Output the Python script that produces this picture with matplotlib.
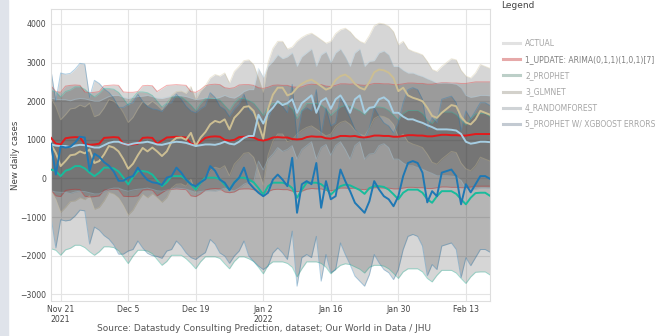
import numpy as np
import pandas as pd
import matplotlib
matplotlib.use("Agg")
import matplotlib.pyplot as plt
from matplotlib.lines import Line2D
from matplotlib.patches import Rectangle

# ---------------- data ----------------
dates = pd.date_range("2021-11-19", "2022-02-18", freq="D")

arima = [1050, 900, 880, 1040, 1060, 1070, 1060, 890, 870, 880, 900, 1050, 1060, 1070, 1060, 890,
         880, 880, 900, 1050, 1060, 1050, 900, 980, 1060, 1070, 1080, 1070, 1060, 900, 880,
         950, 1050, 1080, 1090, 1080, 1000, 980, 1000, 1070, 1080, 1080, 1060, 1000, 980, 1010,
         1060, 1070, 1060, 1060, 1020, 1010, 1020, 1070, 1090, 1080, 1080, 1040, 1030, 1060, 1100,
         1100, 1090, 1100, 1070, 1060, 1080, 1110, 1110, 1100, 1100, 1080, 1080, 1100, 1120, 1120,
         1110, 1110, 1090, 1090, 1110, 1130, 1130, 1120, 1120, 1110, 1110, 1130, 1150, 1150, 1150, 1150]

prophet = [230, 190, 60, 200, 240, 320, 320, 260, 150, 60, 150, 280, 280, 260, 180, 20,
           -155, 40, 190, 190, 170, 100, -50, -200, -100, 60, 60, 60, -30, -150, -290,
           -110, 20, 20, 20, -20, -160, -290, -100, 20, 20, -30, -100, -250, -420, -200,
           -110, -110, -110, -150, -250, -500, -290, -110, -110, -110, -150, -250, -420, -300, -200,
           -160, -180, -240, -300, -400, -250, -200, -200, -220, -290, -410, -540, -370, -290, -290,
           -290, -370, -540, -630, -460, -330, -330, -330, -400, -540, -670, -500, -380, -370, -370, -450]

glmnet = [880, 660, 320, 450, 600, 620, 700, 650, 750, 400, 450, 620, 840, 800, 700, 500,
          250, 380, 600, 790, 700, 800, 700, 580, 700, 950, 1050, 1060, 1000, 1180, 840,
          1060, 1200, 1400, 1490, 1450, 1530, 1270, 1570, 1700, 1850, 1870, 1750, 1400, 1030, 1800,
          2170, 2350, 2350, 2150, 2200, 2350, 2450, 2520, 2560, 2480, 2390, 2300, 2350, 2550, 2650,
          2690, 2600, 2450, 2350, 2300, 2500, 2750, 2820, 2800, 2740, 2600, 2260, 2350, 2150, 2090,
          2050, 2000, 1830, 1620, 1570, 1700, 1800, 1900, 1870, 1600, 1450, 1400, 1530, 1750, 1700, 1650]

randomforest = [880, 850, 840, 840, 810, 850, 870, 860, 830, 800, 800, 860, 920, 950, 950, 900,
                870, 900, 920, 930, 950, 920, 880, 870, 900, 930, 950, 940, 920, 880, 840,
                860, 880, 880, 870, 900, 950, 900, 880, 950, 1050, 1100, 1100, 1650, 1420, 1700,
                1830, 2000, 1900, 1950, 2050, 1700, 1950, 2050, 2150, 1700, 2000, 2080, 1800, 2050, 2150,
                1950, 1700, 2050, 2150, 1700, 1830, 1850, 2050, 2100, 2000, 1700, 1700, 1600, 1530, 1530,
                1480, 1440, 1380, 1330, 1270, 1270, 1270, 1260, 1240, 1150, 950, 900, 920, 950, 950, 940]

xgb = [900, 100, 830, 800, 820, 930, 1080, 1060, 200, 640, 560, 420, 330, 180, -60, -60,
       20, 60, 280, 100, -40, -100, -120, -170, 20, 60, 280, 150, -30, -150, -200,
       -100, -20, 320, 200, -30, -110, -300, -110, 20, 280, -110, -250, -370, -460, -370,
       -30, 100, -30, -200, 535, -890, -150, -70, -150, 400, -760, -70, -540, -460, 230,
       -70, -330, -630, -760, -890, -590, -70, -285, -460, -540, -720, -460, 60, 400, 450,
       400, 150, -620, -330, -460, 150, 190, 230, 60, -670, -150, -360, -150, 60, 60, -10]

model_names = ["1_UPDATE: ARIMA(0,1,1)(1,0,1)[7]", "2_PROPHET", "3_GLMNET",
               "4_RANDOMFOREST", "5_PROPHET W/ XGBOOST ERRORS"]
model_values = [arima, prophet, glmnet, randomforest, xgb]
# half width of each model's confidence interval
conf_halfwidth = [1350, 2050, 1200, 1200, 1900]

tick_dates = ["2021-11-21", "2021-12-05", "2021-12-19", "2022-01-02",
              "2022-01-16", "2022-01-30", "2022-02-13"]
tick_labels = ["Nov 21\n2021", "Dec 5", "Dec 19", "Jan 2\n2022", "Jan 16", "Jan 30", "Feb 13"]
y_ticks = [4000, 3000, 2000, 1000, 0, -1000, -2000, -3000]

# ---------------- style ----------------
colors = ["#e31a1c", "#18BC9C", "#CCBE93", "#a6cee3", "#1f78b4"]
legend_colors = ["#e2e2e2", "#e6a9a9", "#bccfc8", "#d3d1cb", "#cfd3d6", "#c3cad2"]
legend_labels = ["ACTUAL"] + model_names

W, H = 659, 336
fig = plt.figure(figsize=(W / 100, H / 100), dpi=100)
fig.patch.set_facecolor("white")
fig.patches.append(Rectangle((0, 0), 8 / W, 1, transform=fig.transFigure,
                             color="#dfe3ea", zorder=-5))

L, R, T, B = 51, 490, 9.3, 301
ax = fig.add_axes([L / W, 1 - B / H, (R - L) / W, (B - T) / H])
ax.set_facecolor("white")

for vals, col, hw in zip(model_values, colors, conf_halfwidth):
    v = np.asarray(vals, dtype=float)
    ax.fill_between(dates, v - hw, v + hw, color="#333333", alpha=0.2, lw=0, zorder=1)
    ax.plot(dates, v + hw, color=col, alpha=0.35, lw=0.7, zorder=2)
    ax.plot(dates, v - hw, color=col, alpha=0.35, lw=0.7, zorder=2)

for vals, col in zip(model_values, colors):
    ax.plot(dates, vals, color=col, lw=1.4, zorder=3, solid_joinstyle="round")

ax.set_xlim(dates[0], dates[-1])
ax.set_ylim(-3174, 4380)
ax.set_xticks(pd.to_datetime(tick_dates))
ax.set_xticklabels(tick_labels, linespacing=1.05)
ax.set_yticks(y_ticks)
ax.set_yticklabels([str(t).replace("-", "\u2212") for t in y_ticks])
ax.tick_params(axis="both", length=0, labelsize=5.6, colors="#444444")
ax.tick_params(axis="x", pad=3)
ax.tick_params(axis="y", pad=3.5)
ax.grid(True, color="#e4e4e4", lw=0.8)
ax.set_axisbelow(True)
for s in ax.spines.values():
    s.set_color("#dedede")
    s.set_linewidth(0.8)
ax.set_ylabel("New daily cases", fontsize=6.2, color="#444444")
ax.yaxis.set_label_coords((20 - L) / (R - L), 0.5)

# ---------------- legend ----------------
fig.text(501 / W, 1 - 5 / H, "Legend", fontsize=6.5, color="#444444",
         ha="left", va="center")
for i, (lab, lc) in enumerate(zip(legend_labels, legend_colors)):
    y = 1 - (43 + 16.2 * i) / H
    fig.add_artist(Line2D([503 / W, 520 / W], [y, y], transform=fig.transFigure,
                          color=lc, lw=2.2))
    tc = "#7e7e7e" if i == 1 else "#a5a5a5"
    fig.text(525 / W, y, lab, fontsize=5.5, color=tc, ha="left", va="center")

fig.text(264 / W, 1 - 328.5 / H,
         "Source: Datastudy Consulting Prediction, dataset; Our World in Data / JHU",
         fontsize=6.5, color="#555555", ha="center", va="center")

fig.savefig("out.png", dpi=100)
